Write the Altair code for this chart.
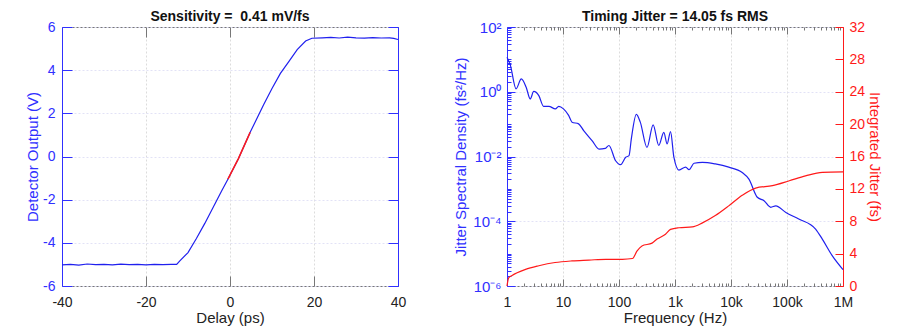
import altair as alt
import pandas as pd

# ---------------- data ----------------
delay = [-40, -38, -36, -34, -32, -30, -28, -26, -24, -22, -20, -18, -16, -14, -12.7,
         -12, -10, -8, -6, -4, -2, -0.5, 2, 4.8, 6, 8, 10, 12, 14, 16, 18, 19.5,
         22, 24, 26, 28, 30, 32, 34, 36, 38, 39, 40]
output = [-5.02, -5.0, -5.03, -4.98, -5.01, -5.0, -5.02, -4.99, -5.01, -5.0, -5.02, -5.0, -5.01, -5.0, -5.0,
          -4.85, -4.45, -3.8, -3.1, -2.35, -1.6, -1.05, -0.1, 1.12, 1.6, 2.4, 3.15, 3.85, 4.4, 4.95, 5.35, 5.48,
          5.5, 5.52, 5.49, 5.53, 5.5, 5.48, 5.51, 5.49, 5.5, 5.47, 5.42]
red_delay = [-0.5, 2.0, 4.8]
red_output = [-1.05, -0.1, 1.12]

freq_psd = [1, 1.15, 1.45, 1.8, 2.2, 2.6, 3.0, 3.7, 4.5, 5.6, 7.3, 8.4, 10.2, 12.6, 14.5,
            19, 23.4, 33, 44, 57, 66, 87, 107, 132, 151, 166, 204, 240, 316, 407, 513,
            631, 724, 832, 955, 1175, 1550, 1780, 2190, 3090, 5250, 9120, 15850, 20900,
            29500, 38900, 51300, 63100, 95500, 162000, 324000, 427000, 646000, 1000000]
psd = [11.7, 6.5, 1.23, 2.5, 1.38, 0.60, 1.02, 0.76, 0.355, 0.355, 0.295, 0.355, 0.295, 0.186, 0.115,
       0.102, 0.063, 0.031, 0.017, 0.0178, 0.0219, 0.0074, 0.0056, 0.0095, 0.0107, 0.035, 0.2, 0.115,
       0.019, 0.095, 0.022, 0.056, 0.0245, 0.059, 0.0095, 0.0038, 0.0047, 0.0039, 0.0062, 0.0066,
       0.0059, 0.0047, 0.0032, 0.0020, 0.00055, 0.00043, 0.00027, 0.0003, 0.000186, 0.000117,
       5.75e-5, 2.8e-5, 8.5e-6, 3.2e-6]

freq_jit = [1, 1.07, 1.23, 2.14, 3.7, 7.2, 14.5, 29, 58, 115, 174, 209, 257, 389, 479, 676, 832,
            1175, 2040, 3090, 5250, 9120, 15850, 27500, 55000, 110000, 214000, 427000, 1000000]
jitter = [0, 1.0, 1.3, 2.05, 2.5, 2.9, 3.1, 3.2, 3.3, 3.3, 3.4, 4.3, 4.95, 5.3, 5.8, 6.4, 7.0,
          7.2, 7.3, 7.8, 8.7, 9.9, 11.2, 12.1, 12.4, 13.0, 13.6, 14.05, 14.1]

x_left_ticks = [-40, -20, 0, 20, 40]
y_left_ticks = [-6, -4, -2, 0, 2, 4, 6]
x_log_major = [1, 10, 100, 1000, 10000, 100000, 1000000]
y_log_major = [1e-6, 1e-4, 1e-2, 1, 100]
y_jit_ticks = [0, 4, 8, 12, 16, 20, 24, 28, 32]

x_log_minor = [k * 10 ** n for n in range(0, 6) for k in range(2, 10)]
y_log_minor = [k * 10.0 ** n for n in range(-6, 2) for k in range(1, 10) if not (k == 1 and n % 2 == 0)]

df_left = pd.DataFrame({"delay": delay, "output": output})
df_red = pd.DataFrame({"delay": red_delay, "output": red_output})
df_psd = pd.DataFrame({"freq": freq_psd, "psd": psd})
df_jit = pd.DataFrame({"freq": freq_jit, "jitter": jitter})

BLUE = "#3030ff"
LINE_BLUE = "#2020ee"
RED = "#ff1a1a"
GREY = "#777777"
GRID = "#dcdcdc"
FONT = "Liberation Sans"
W, H = 336, 259


def tick_axis(orient, color, size, values):
    return alt.Axis(orient=orient, labels=False, domain=False, grid=False, ticks=True,
                    tickSize=size, offset=-size, tickColor=color, tickWidth=1,
                    values=values, title=None)


# ---------------- left panel ----------------
xs = alt.Scale(domain=[-40, 40], nice=False)
ys = alt.Scale(domain=[-6, 6], nice=False)

L1 = alt.Chart(df_left).mark_line(color=LINE_BLUE, strokeWidth=1.2).encode(
    x=alt.X("delay:Q", scale=xs, axis=alt.Axis(
        orient="bottom", values=x_left_ticks, title="Delay (ps)", labelExpr="'' + datum.value",
        ticks=False, domain=False, grid=True, gridColor=GRID, gridDash=[2, 2],
        labelPadding=9, titlePadding=1, labelColor="#222", titleColor="#222", labelFlush=False)),
    y=alt.Y("output:Q", scale=ys, axis=alt.Axis(
        orient="left", values=y_left_ticks, title="Detector Output (V)", labelExpr="'' + datum.value",
        ticks=False, domain=True, domainColor=BLUE, grid=True, gridColor="#e2e2f6", gridDash=[2, 2],
        labelPadding=7, titlePadding=2, labelColor=BLUE, titleColor=BLUE)),
)
L2 = alt.Chart(df_left).mark_line(opacity=0).encode(
    x=alt.X("delay:Q", scale=xs, axis=tick_axis("bottom", GREY, 10, x_left_ticks)),
    y=alt.Y("output:Q", scale=ys, axis=tick_axis("left", BLUE, 10, y_left_ticks)),
)
L3 = alt.Chart(df_left).mark_line(opacity=0).encode(
    x=alt.X("delay:Q", scale=xs, axis=tick_axis("top", GREY, 10, x_left_ticks)),
    y=alt.Y("output:Q", scale=ys, axis=tick_axis("right", BLUE, 10, y_left_ticks)),
)
L4 = alt.Chart(df_left).mark_line(opacity=0).encode(
    x=alt.X("delay:Q", scale=xs, axis=None),
    y=alt.Y("output:Q", scale=ys, axis=alt.Axis(
        orient="right", labels=False, ticks=False, grid=False, domain=True,
        domainColor=BLUE, title=None)),
)
L5 = alt.Chart(df_red).mark_line(color=RED, strokeWidth=1.5).encode(
    x=alt.X("delay:Q", scale=xs, axis=None),
    y=alt.Y("output:Q", scale=ys, axis=None),
)
left = alt.layer(L1, L2, L3, L4, L5).resolve_axis(x="independent", y="independent").properties(
    width=W, height=H,
    title=alt.TitleParams("Sensitivity = \u00a00.41 mV/fs", frame="group", anchor="middle", offset=-4),
)

# ---------------- right panel ----------------
fx = alt.Scale(type="log", domain=[1, 1000000], nice=False)
fy = alt.Scale(type="log", domain=[1e-6, 100], nice=False)
jy = alt.Scale(domain=[0, 32], nice=False)

freq_label = ("datum.value >= 1000000 ? '1M' : datum.value >= 1000 ? "
              "(datum.value / 1000) + 'k' : '' + datum.value")
psd_label = ("datum.value >= 99 ? '10²' : datum.value >= 0.99 ? '10⁰' : "
             "datum.value >= 0.0099 ? '10⁻²' : datum.value >= 0.000099 ? '10⁻⁴' : '10⁻⁶'")

P1 = alt.Chart(df_psd).mark_line(color=LINE_BLUE, strokeWidth=1.2, interpolate="monotone").encode(
    x=alt.X("freq:Q", scale=fx, axis=alt.Axis(
        orient="bottom", values=x_log_major, title="Frequency (Hz)", labelExpr=freq_label,
        ticks=False, domain=False, grid=True, gridColor=GRID, gridDash=[2, 2],
        labelPadding=9, titlePadding=1, labelColor="#222", titleColor="#222", labelFlush=False)),
    y=alt.Y("psd:Q", scale=fy, axis=alt.Axis(
        orient="left", values=y_log_major, title="Jitter Spectral Density (fs²/Hz)", labelExpr=psd_label,
        ticks=False, domain=True, domainColor=BLUE, grid=True, gridColor="#e2e2f6", gridDash=[2, 2],
        labelPadding=6, titlePadding=4, labelColor=BLUE, titleColor=BLUE, labelFontSize=15)),
)
P2 = alt.Chart(df_psd).mark_line(opacity=0).encode(
    x=alt.X("freq:Q", scale=fx, axis=tick_axis("bottom", GREY, 7, x_log_major)),
    y=alt.Y("psd:Q", scale=fy, axis=tick_axis("left", BLUE, 8, y_log_major)),
)
P3 = alt.Chart(df_psd).mark_line(opacity=0).encode(
    x=alt.X("freq:Q", scale=fx, axis=tick_axis("bottom", GREY, 3, x_log_minor)),
    y=alt.Y("psd:Q", scale=fy, axis=tick_axis("left", BLUE, 4, y_log_minor)),
)
P4 = alt.Chart(df_psd).mark_line(opacity=0).encode(
    x=alt.X("freq:Q", scale=fx, axis=tick_axis("top", GREY, 7, x_log_major)),
    y=alt.Y("psd:Q", scale=fy, axis=None),
)
P5 = alt.Chart(df_psd).mark_line(opacity=0).encode(
    x=alt.X("freq:Q", scale=fx, axis=tick_axis("top", GREY, 3, x_log_minor)),
    y=alt.Y("psd:Q", scale=fy, axis=None),
)
psd_group = alt.layer(P1, P2, P3, P4, P5).resolve_axis(x="independent", y="independent")

J1 = alt.Chart(df_jit).mark_line(color=RED, strokeWidth=1.2, interpolate="monotone").encode(
    x=alt.X("freq:Q", scale=fx, axis=None),
    y=alt.Y("jitter:Q", scale=jy, axis=alt.Axis(
        orient="right", values=y_jit_ticks, title="Integrated Jitter (fs)", labelExpr="'' + datum.value",
        ticks=False, domain=True, domainColor=RED, grid=False,
        labelPadding=6, titlePadding=2, labelColor=RED, titleColor=RED)),
)
J2 = alt.Chart(df_jit).mark_line(opacity=0).encode(
    x=alt.X("freq:Q", scale=fx, axis=None),
    y=alt.Y("jitter:Q", scale=jy, axis=tick_axis("right", RED, 8, y_jit_ticks)),
)
jit_group = alt.layer(J1, J2).resolve_axis(x="independent", y="independent")

right = alt.layer(psd_group, jit_group).resolve_scale(y="independent").resolve_axis(
    x="independent", y="independent").properties(
    width=W, height=H,
    title=alt.TitleParams("Timing Jitter = 14.05 fs RMS", frame="group", anchor="middle", offset=-4),
)

chart = alt.hconcat(left, right, spacing=46).properties(
    padding={"left": 17, "top": 1, "right": 0, "bottom": 0}
).configure_view(stroke=GREY, strokeWidth=1).configure_axis(
    labelFont=FONT, titleFont=FONT, labelFontSize=14, titleFontSize=15, titleFontWeight="normal"
).configure_title(font=FONT, fontSize=14, fontWeight="bold", color="#111")

chart.save("out.html", embed_options={"renderer": "svg", "actions": False})
